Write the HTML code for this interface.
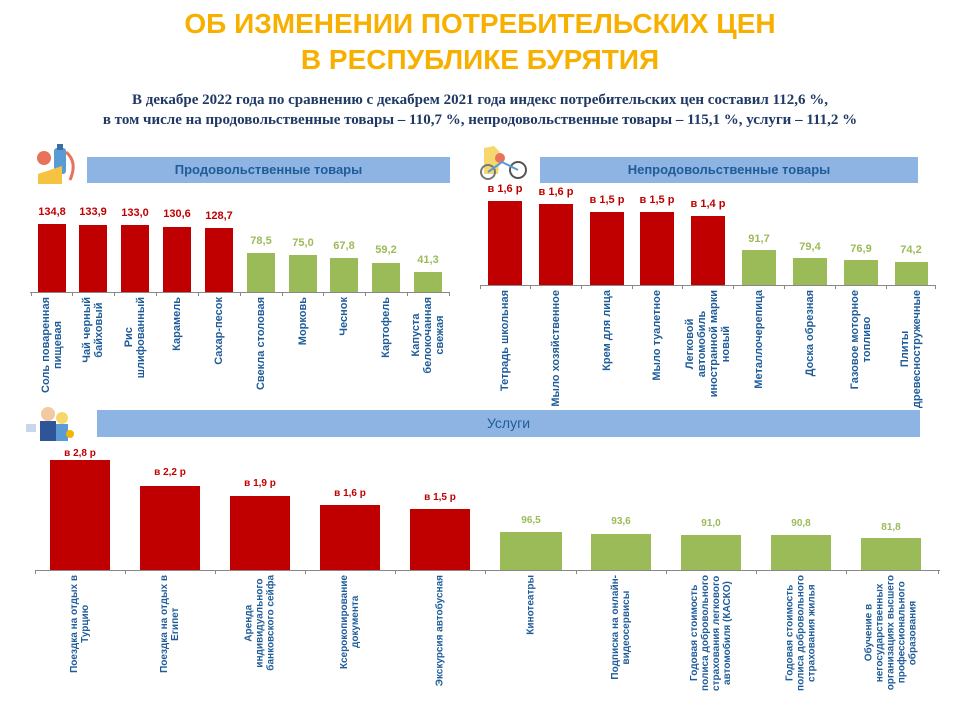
<!DOCTYPE html>
<html><head><meta charset="utf-8">
<style>
body{margin:0;width:960px;height:720px;background:#fff;position:relative;overflow:hidden;font-family:"Liberation Sans",sans-serif}
.abs{position:absolute}
.t{position:absolute;left:0;width:960px;text-align:center;color:#F7B000;font-weight:bold;font-size:28px;letter-spacing:0px}
.s{position:absolute;left:0;width:960px;text-align:center;color:#1F3864;font-weight:bold;font-family:"Liberation Serif",serif;font-size:15px}
.hdr{position:absolute;background:#8DB4E2;color:#1F5C99;font-weight:bold;font-size:13px;text-align:center;line-height:26px}
.bar{position:absolute}
.r{background:#C00000}.g{background:#9BBB59}
.v{position:absolute;font-weight:bold;font-size:11px;text-align:center;width:60px}
.vr{color:#C00000}.vg{color:#9BBB59}
.ax{position:absolute;height:1px;background:#888}
.tk{position:absolute;width:1px;height:4px;background:#888}
.lw{position:absolute;transform:translateX(-50%)}
.lb{writing-mode:vertical-rl;transform:rotate(180deg);text-align:center;color:#1F5C99;font-weight:bold;font-size:10px;line-height:11px;white-space:nowrap}
.big .lb{font-size:11px;line-height:12px}
</style></head><body>
<div class="t" style="top:8px">ОБ ИЗМЕНЕНИИ ПОТРЕБИТЕЛЬСКИХ ЦЕН</div>
<div class="t" style="top:44px">В РЕСПУБЛИКЕ БУРЯТИЯ</div>
<div class="s" style="top:92px">В декабре 2022 года по сравнению с декабрем 2021 года индекс потребительских цен составил 112,6 %,</div>
<div class="s" style="top:112px">в том числе на продовольственные товары – 110,7 %, непродовольственные товары – 115,1 %, услуги – 111,2 %</div>

<!-- icons -->
<svg class="abs" style="left:34px;top:144px" width="50" height="42"><circle cx="10" cy="14" r="7" fill="#E8735A"/><rect x="20" y="4" width="12" height="26" rx="3" fill="#5B9BD5"/><rect x="23" y="0" width="6" height="6" fill="#3A6EA5"/><polygon points="4,30 28,22 28,40 4,40" fill="#F5C242"/><path d="M32 8 q12 10 4 28" stroke="#E8735A" stroke-width="3" fill="none"/></svg>
<svg class="abs" style="left:478px;top:144px" width="52" height="36"><path d="M6 4 l10 -2 l6 6 l-2 22 l-14 0 z" fill="#F5D76E"/><circle cx="22" cy="14" r="5" fill="#E8735A"/><circle cx="10" cy="28" r="7" fill="none" stroke="#777" stroke-width="2"/><circle cx="40" cy="26" r="8" fill="none" stroke="#555" stroke-width="2"/><path d="M10 28 l14 -10 l16 8" stroke="#5B9BD5" stroke-width="2" fill="none"/></svg>
<svg class="abs" style="left:26px;top:400px" width="58" height="42"><circle cx="22" cy="14" r="7" fill="#F2C9A0"/><rect x="14" y="21" width="16" height="20" fill="#2E5597"/><circle cx="36" cy="18" r="6" fill="#F5D76E"/><rect x="30" y="24" width="12" height="17" fill="#5B9BD5"/><rect x="0" y="24" width="10" height="8" fill="#C9D7EA"/><circle cx="44" cy="34" r="4" fill="#F5B400"/></svg>

<!-- food -->
<div class="hdr" style="left:87px;top:157px;width:363px;height:26px">Продовольственные товары</div>
<div class="ax" style="left:30px;top:292px;width:420px"></div>
<div class="tk" style="left:31px;top:292px"></div><div class="tk" style="left:72px;top:292px"></div><div class="tk" style="left:114px;top:292px"></div><div class="tk" style="left:156px;top:292px"></div><div class="tk" style="left:198px;top:292px"></div><div class="tk" style="left:240px;top:292px"></div><div class="tk" style="left:282px;top:292px"></div><div class="tk" style="left:323px;top:292px"></div><div class="tk" style="left:365px;top:292px"></div><div class="tk" style="left:407px;top:292px"></div><div class="tk" style="left:449px;top:292px"></div>
<div class="bar r" style="left:38px;top:224px;width:28px;height:68px"></div>
<div class="bar r" style="left:79px;top:225px;width:28px;height:67px"></div>
<div class="bar r" style="left:121px;top:225px;width:28px;height:67px"></div>
<div class="bar r" style="left:163px;top:227px;width:28px;height:65px"></div>
<div class="bar r" style="left:205px;top:228px;width:28px;height:64px"></div>
<div class="bar g" style="left:247px;top:253px;width:28px;height:39px"></div>
<div class="bar g" style="left:289px;top:255px;width:28px;height:37px"></div>
<div class="bar g" style="left:330px;top:258px;width:28px;height:34px"></div>
<div class="bar g" style="left:372px;top:263px;width:28px;height:29px"></div>
<div class="bar g" style="left:414px;top:272px;width:28px;height:20px"></div>
<div class="v vr" style="left:22px;top:206px">134,8</div>
<div class="v vr" style="left:63px;top:206px">133,9</div>
<div class="v vr" style="left:105px;top:207px">133,0</div>
<div class="v vr" style="left:147px;top:208px">130,6</div>
<div class="v vr" style="left:189px;top:210px">128,7</div>
<div class="v vg" style="left:231px;top:235px">78,5</div>
<div class="v vg" style="left:273px;top:237px">75,0</div>
<div class="v vg" style="left:314px;top:240px">67,8</div>
<div class="v vg" style="left:356px;top:244px">59,2</div>
<div class="v vg" style="left:398px;top:254px">41,3</div>
<div class="big">
<div class="lw" style="left:52px;top:297px"><div class="lb">Соль поваренная<br>пищевая</div></div>
<div class="lw" style="left:93px;top:297px"><div class="lb">Чай черный<br>байховый</div></div>
<div class="lw" style="left:135px;top:297px"><div class="lb">Рис<br>шлифованный</div></div>
<div class="lw" style="left:177px;top:297px"><div class="lb">Карамель</div></div>
<div class="lw" style="left:219px;top:297px"><div class="lb">Сахар-песок</div></div>
<div class="lw" style="left:261px;top:297px"><div class="lb">Свекла столовая</div></div>
<div class="lw" style="left:303px;top:297px"><div class="lb">Морковь</div></div>
<div class="lw" style="left:344px;top:297px"><div class="lb">Чеснок</div></div>
<div class="lw" style="left:386px;top:297px"><div class="lb">Картофель</div></div>
<div class="lw" style="left:428px;top:297px"><div class="lb">Капуста<br>белокочанная<br>свежая</div></div>
</div>

<!-- nonfood -->
<div class="hdr" style="left:540px;top:157px;width:378px;height:26px">Непродовольственные товары</div>
<div class="ax" style="left:480px;top:285px;width:456px"></div>
<div class="tk" style="left:480px;top:285px"></div><div class="tk" style="left:530px;top:285px"></div><div class="tk" style="left:581px;top:285px"></div><div class="tk" style="left:632px;top:285px"></div><div class="tk" style="left:682px;top:285px"></div><div class="tk" style="left:733px;top:285px"></div><div class="tk" style="left:784px;top:285px"></div><div class="tk" style="left:835px;top:285px"></div><div class="tk" style="left:886px;top:285px"></div><div class="tk" style="left:935px;top:285px"></div>
<div class="bar r" style="left:488px;top:201px;width:34px;height:84px"></div>
<div class="bar r" style="left:539px;top:204px;width:34px;height:81px"></div>
<div class="bar r" style="left:590px;top:212px;width:34px;height:73px"></div>
<div class="bar r" style="left:640px;top:212px;width:34px;height:73px"></div>
<div class="bar r" style="left:691px;top:216px;width:34px;height:69px"></div>
<div class="bar g" style="left:742px;top:250px;width:34px;height:35px"></div>
<div class="bar g" style="left:793px;top:258px;width:34px;height:27px"></div>
<div class="bar g" style="left:844px;top:260px;width:34px;height:25px"></div>
<div class="bar g" style="left:895px;top:262px;width:33px;height:23px"></div>
<div class="v vr" style="left:475px;top:183px">в 1,6 р</div>
<div class="v vr" style="left:526px;top:186px">в 1,6 р</div>
<div class="v vr" style="left:577px;top:194px">в 1,5 р</div>
<div class="v vr" style="left:627px;top:194px">в 1,5 р</div>
<div class="v vr" style="left:678px;top:198px">в 1,4 р</div>
<div class="v vg" style="left:729px;top:233px">91,7</div>
<div class="v vg" style="left:780px;top:241px">79,4</div>
<div class="v vg" style="left:831px;top:243px">76,9</div>
<div class="v vg" style="left:881px;top:244px">74,2</div>
<div class="big">
<div class="lw" style="left:505px;top:290px"><div class="lb">Тетрадь школьная</div></div>
<div class="lw" style="left:556px;top:290px"><div class="lb">Мыло хозяйственное</div></div>
<div class="lw" style="left:607px;top:290px"><div class="lb">Крем для лица</div></div>
<div class="lw" style="left:657px;top:290px"><div class="lb">Мыло туалетное</div></div>
<div class="lw" style="left:708px;top:290px"><div class="lb">Легковой<br>автомобиль<br>иностранной марки<br>новый</div></div>
<div class="lw" style="left:759px;top:290px"><div class="lb">Металлочерепица</div></div>
<div class="lw" style="left:810px;top:290px"><div class="lb">Доска обрезная</div></div>
<div class="lw" style="left:861px;top:290px"><div class="lb">Газовое моторное<br>топливо</div></div>
<div class="lw" style="left:911px;top:290px"><div class="lb">Плиты<br>древесностружечные</div></div>
</div>

<!-- services -->
<div class="hdr" style="left:97px;top:410px;width:823px;height:27px;line-height:27px;font-weight:normal;font-size:14px">Услуги</div>
<div class="ax" style="left:35px;top:570px;width:905px"></div>
<div class="tk" style="left:35px;top:570px"></div><div class="tk" style="left:125px;top:570px"></div><div class="tk" style="left:215px;top:570px"></div><div class="tk" style="left:305px;top:570px"></div><div class="tk" style="left:395px;top:570px"></div><div class="tk" style="left:485px;top:570px"></div><div class="tk" style="left:576px;top:570px"></div><div class="tk" style="left:666px;top:570px"></div><div class="tk" style="left:756px;top:570px"></div><div class="tk" style="left:846px;top:570px"></div><div class="tk" style="left:938px;top:570px"></div>
<div class="bar r" style="left:50px;top:460px;width:60px;height:110px"></div>
<div class="bar r" style="left:140px;top:486px;width:60px;height:84px"></div>
<div class="bar r" style="left:230px;top:496px;width:60px;height:74px"></div>
<div class="bar r" style="left:320px;top:505px;width:60px;height:65px"></div>
<div class="bar r" style="left:410px;top:509px;width:60px;height:61px"></div>
<div class="bar g" style="left:500px;top:532px;width:62px;height:38px"></div>
<div class="bar g" style="left:591px;top:534px;width:60px;height:36px"></div>
<div class="bar g" style="left:681px;top:535px;width:60px;height:35px"></div>
<div class="bar g" style="left:771px;top:535px;width:60px;height:35px"></div>
<div class="bar g" style="left:861px;top:538px;width:60px;height:32px"></div>
<div class="v vr" style="left:50px;top:448px;font-size:10px">в 2,8 р</div>
<div class="v vr" style="left:140px;top:467px;font-size:10px">в 2,2 р</div>
<div class="v vr" style="left:230px;top:478px;font-size:10px">в 1,9 р</div>
<div class="v vr" style="left:320px;top:488px;font-size:10px">в 1,6 р</div>
<div class="v vr" style="left:410px;top:492px;font-size:10px">в 1,5 р</div>
<div class="v vg" style="left:501px;top:515px;font-size:10px">96,5</div>
<div class="v vg" style="left:591px;top:516px;font-size:10px">93,6</div>
<div class="v vg" style="left:681px;top:518px;font-size:10px">91,0</div>
<div class="v vg" style="left:771px;top:518px;font-size:10px">90,8</div>
<div class="v vg" style="left:861px;top:522px;font-size:10px">81,8</div>
<div class="lw" style="left:80px;top:575px"><div class="lb">Поездка на отдых в<br>Турцию</div></div>
<div class="lw" style="left:170px;top:575px"><div class="lb">Поездка на отдых в<br>Египет</div></div>
<div class="lw" style="left:260px;top:575px"><div class="lb">Аренда<br>индивидуального<br>банковского сейфа</div></div>
<div class="lw" style="left:350px;top:575px"><div class="lb">Ксерокопирование<br>документа</div></div>
<div class="lw" style="left:440px;top:575px"><div class="lb">Экскурсия автобусная</div></div>
<div class="lw" style="left:531px;top:575px"><div class="lb">Кинотеатры</div></div>
<div class="lw" style="left:621px;top:575px"><div class="lb">Подписка на онлайн-<br>видеосервисы</div></div>
<div class="lw" style="left:711px;top:575px"><div class="lb">Годовая стоимость<br>полиса добровольного<br>страхования легкового<br>автомобиля (КАСКО)</div></div>
<div class="lw" style="left:801px;top:575px"><div class="lb">Годовая стоимость<br>полиса добровольного<br>страхования жилья</div></div>
<div class="lw" style="left:891px;top:575px"><div class="lb">Обучение в<br>негосударственных<br>организациях высшего<br>профессионального<br>образования</div></div>
</body></html>
